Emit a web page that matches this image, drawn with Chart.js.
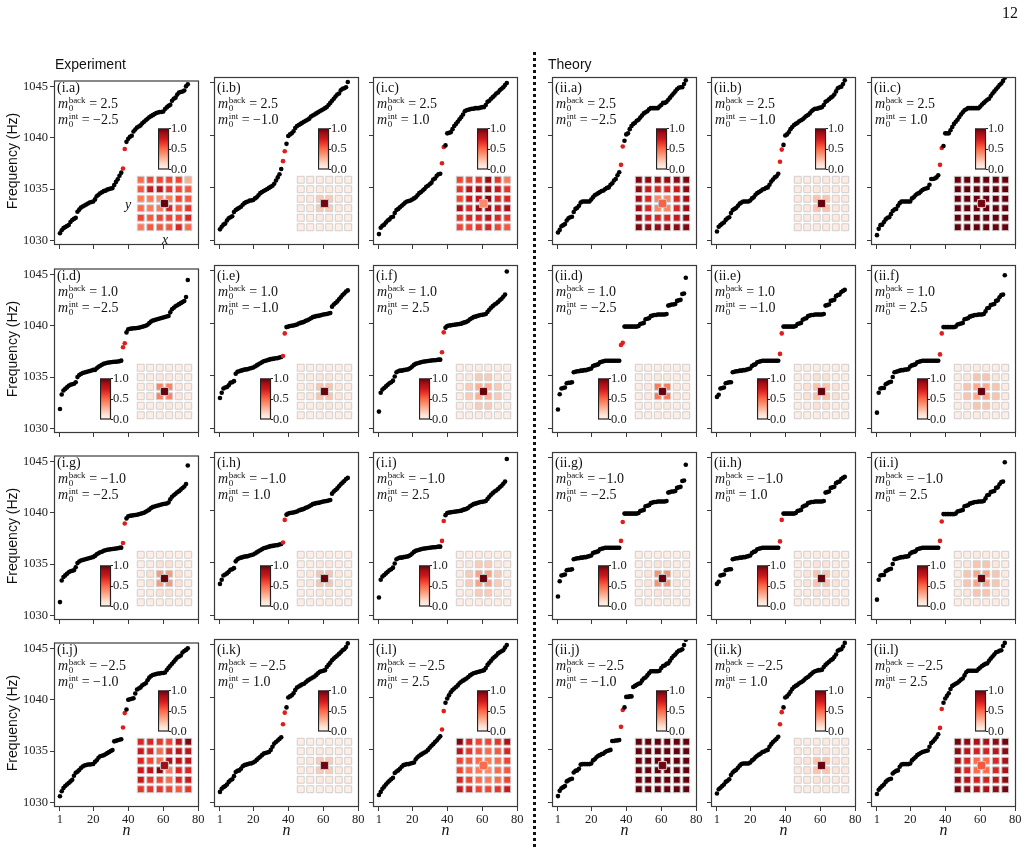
<!DOCTYPE html>
<html lang="en">
<head>
<meta charset="UTF-8">
<title>spectra | experiment vs theory</title>
<script src="https://cdn.jsdelivr.net/npm/chart.js@4.4.1/dist/chart.umd.min.js"></script>
<style>
  body { margin:0; background:#fff; width:1027px; height:848px; position:relative; overflow:hidden; font-family:"Liberation Serif", serif; }
  canvas { position:absolute; }
  .txt { position:absolute; white-space:nowrap; color:#111; z-index:5; }
  .plab { font-size:14px; line-height:16px; }
  .mlab { font-size:14px; line-height:16px; }
  .st { display:inline-flex; flex-direction:column; font-size:9px; line-height:7.5px; vertical-align:5px; margin-left:0.5px; }
  .sans { font-family:"Liberation Sans", Arial, sans-serif; font-size:14px; }
  .ital { font-style:italic; font-size:14px; }
  #sep { position:absolute; left:533px; top:52px; width:2.5px; height:800px;
         background:repeating-linear-gradient(to bottom, #111 0 3px, transparent 3px 6px); }
</style>
</head>
<body>
<div id="sep"></div>
<script>
// ---- data ----
const nTicks = [1, 20, 40, 60, 80];
const fTicks = [1030, 1035, 1040, 1045];
const cbTicks = [0, 0.5, 1];
const edgeN = [37, 38];            // red (in-gap) modes
const nIdx = Array.from({length: 74}, (_, i) => i + 1);

const panelIds = ['i.a','i.b','i.c','ii.a','ii.b','ii.c',
                  'i.d','i.e','i.f','ii.d','ii.e','ii.f',
                  'i.g','i.h','i.i','ii.g','ii.h','ii.i',
                  'i.j','i.k','i.l','ii.j','ii.k','ii.l'];
const mBack = [2.5, 1.0, -1.0, -2.5];
const mInt = [-2.5,-1.0,1.0, -2.5,-1.0,1.0,
              -2.5,-1.0,2.5, -2.5,-1.0,2.5,
              -2.5,1.0,2.5, -2.5,1.0,2.5,
              -1.0,1.0,2.5, -1.0,1.0,2.5];

const freqIa = [1030.7,1031.0,1031.2,1031.3,1031.4,1031.5,1031.8,1032.0,1032.1,1032.2,
  1032.8,1033.0,1033.2,1033.3,1033.4,1033.5,1033.6,1033.7,1033.75,1033.8,
  1034.0,1034.3,1034.45,1034.6,1034.7,1034.8,1034.85,1034.95,1035.0,1035.05,
  1035.1,1035.4,1035.7,1035.95,1036.3,1036.6,1037.0,1038.9,1039.6,1039.9,
  1040.1,1040.2,1040.6,1040.8,1041.0,1041.1,1041.2,1041.4,1041.55,1041.7,
  1041.85,1042.0,1042.1,1042.2,1042.3,1042.4,1042.45,1042.5,1042.5,1042.55,
  1042.8,1042.95,1043.1,1043.2,1043.6,1043.8,1043.9,1044.2,1044.4,1044.45,
  1044.5,1044.6,1045.0,1045.2];
const freqIb = [1031.05,1031.3,1031.5,1031.6,1031.9,1032.1,1032.2,1032.3,1032.7,1032.9,
  1033.0,1033.1,1033.2,1033.4,1033.55,1033.65,1033.7,1033.8,1033.8,1033.85,
  1034.0,1034.1,1034.3,1034.5,1034.6,1034.7,1034.8,1034.9,1035.0,1035.1,
  1035.2,1035.4,1035.7,1036.0,1036.3,1036.8,1037.55,1038.5,1039.2,1039.95,
  1040.1,1040.2,1040.4,1040.7,1040.9,1041.0,1041.1,1041.2,1041.3,1041.4,
  1041.5,1041.6,1041.8,1041.9,1042.0,1042.1,1042.2,1042.3,1042.4,1042.5,
  1042.6,1042.7,1042.9,1043.1,1043.3,1043.5,1043.7,1043.9,1044.0,1044.3,
  1044.45,1044.5,1044.6,1045.1];
const freqIc = [1030.6,1031.2,1031.4,1031.5,1031.7,1031.9,1032.0,1032.2,1032.25,1032.6,
  1032.9,1033.0,1033.15,1033.3,1033.45,1033.6,1033.7,1033.75,1033.8,1033.9,
  1034.0,1034.1,1034.3,1034.5,1034.6,1034.75,1034.9,1035.1,1035.2,1035.35,
  1035.5,1035.8,1035.9,1036.15,1036.3,1036.35,1037.35,1038.9,1039.05,1040.2,
  1040.25,1040.3,1040.6,1040.9,1041.1,1041.3,1041.55,1041.75,1042.0,1042.3,
  1042.4,1042.45,1042.5,1042.55,1042.55,1042.6,1042.6,1042.6,1042.65,1042.7,
  1042.7,1042.9,1043.2,1043.3,1043.5,1043.65,1043.8,1044.0,1044.1,1044.3,
  1044.45,1044.6,1044.8,1045.0];
const freqIIa = [1030.75,1031.0,1031.35,1031.45,1031.55,1031.9,1032.1,1032.2,1032.25,1032.7,
  1033.0,1033.1,1033.3,1033.6,1033.7,1033.7,1033.7,1033.7,1033.7,1033.9,
  1034.1,1034.3,1034.4,1034.5,1034.6,1034.7,1034.75,1034.9,1035.0,1035.05,
  1035.3,1035.45,1035.7,1035.85,1036.2,1036.5,1037.2,1038.95,1039.5,1040.1,
  1040.2,1040.6,1040.9,1041.1,1041.2,1041.4,1041.5,1041.7,1041.9,1042.1,
  1042.2,1042.3,1042.5,1042.6,1042.6,1042.6,1042.6,1042.6,1042.75,1042.9,
  1043.1,1043.1,1043.2,1043.4,1043.6,1043.8,1044.0,1044.2,1044.4,1044.55,
  1044.6,1044.6,1044.9,1045.25];
const freqIIb = [1030.85,1031.3,1031.45,1031.6,1031.7,1031.95,1032.1,1032.2,1032.6,1032.9,
  1033.0,1033.1,1033.3,1033.5,1033.6,1033.7,1033.7,1033.7,1033.7,1033.8,
  1034.0,1034.1,1034.35,1034.5,1034.6,1034.7,1034.85,1034.9,1035.0,1035.05,
  1035.3,1035.6,1035.8,1036.0,1036.1,1036.35,1037.5,1038.65,1039.1,1040.0,
  1040.1,1040.3,1040.6,1040.8,1041.0,1041.1,1041.2,1041.35,1041.45,1041.55,
  1041.7,1041.85,1041.95,1042.1,1042.3,1042.45,1042.55,1042.55,1042.6,1042.65,
  1042.7,1042.9,1043.2,1043.3,1043.45,1043.6,1043.7,1043.9,1044.2,1044.5,
  1044.6,1044.65,1044.9,1045.25];
const freqIIc = [1030.5,1031.1,1031.45,1031.5,1031.75,1032.0,1032.15,1032.2,1032.5,1032.8,
  1032.95,1033.0,1033.3,1033.55,1033.7,1033.7,1033.7,1033.7,1033.7,1033.7,
  1034.0,1034.1,1034.3,1034.45,1034.5,1034.65,1034.8,1034.9,1034.95,1035.0,
  1035.3,1035.85,1035.85,1035.9,1036.0,1036.2,1037.2,1038.8,1039.0,1040.2,
  1040.2,1040.2,1040.5,1040.8,1041.1,1041.3,1041.5,1041.75,1042.0,1042.2,
  1042.4,1042.5,1042.6,1042.6,1042.6,1042.6,1042.6,1042.6,1042.6,1042.75,
  1042.95,1043.1,1043.25,1043.4,1043.5,1043.75,1044.0,1044.2,1044.4,1044.6,
  1044.8,1044.95,1045.2,1045.5];

const freqId = [1031.9,1033.3,1033.7,1033.85,1034.0,1034.15,1034.25,1034.3,1034.35,1034.5,
  1035.0,1035.2,1035.3,1035.4,1035.45,1035.5,1035.55,1035.6,1035.65,1035.7,
  1035.7,1035.85,1036.0,1036.1,1036.2,1036.3,1036.35,1036.4,1036.42,1036.45,
  1036.47,1036.5,1036.5,1036.52,1036.55,1036.6,1037.9,1038.3,1039.35,1039.65,
  1039.7,1039.72,1039.75,1039.75,1039.78,1039.8,1039.85,1039.9,1039.95,1040.0,
  1040.1,1040.25,1040.4,1040.5,1040.55,1040.6,1040.65,1040.7,1040.75,1040.8,
  1040.85,1040.9,1040.95,1041.3,1041.6,1041.75,1041.9,1042.0,1042.1,1042.2,
  1042.3,1042.4,1042.8,1044.45];
const freqIe = [1032.9,1033.4,1033.8,1033.9,1033.95,1034.1,1034.35,1034.4,1034.5,1035.2,
  1035.4,1035.45,1035.5,1035.55,1035.6,1035.62,1035.65,1035.7,1035.75,1035.8,
  1035.9,1036.0,1036.1,1036.2,1036.3,1036.4,1036.45,1036.5,1036.55,1036.6,
  1036.62,1036.65,1036.68,1036.7,1036.75,1036.8,1036.9,1039.05,1039.65,1039.7,
  1039.75,1039.78,1039.8,1039.85,1039.9,1040.0,1040.05,1040.1,1040.15,1040.25,
  1040.3,1040.4,1040.5,1040.6,1040.65,1040.7,1040.72,1040.75,1040.8,1040.85,
  1040.88,1040.9,1040.95,1041.0,1041.6,1041.8,1041.95,1042.1,1042.3,1042.5,
  1042.7,1042.85,1043.05,1043.15];
const freqIf = [1031.6,1033.4,1033.7,1033.85,1034.0,1034.15,1034.3,1034.4,1034.55,1034.95,
  1035.35,1035.45,1035.5,1035.5,1035.55,1035.58,1035.6,1035.65,1035.75,1035.9,
  1036.05,1036.15,1036.2,1036.25,1036.3,1036.35,1036.38,1036.4,1036.42,1036.45,
  1036.47,1036.5,1036.5,1036.52,1036.55,1036.55,1037.25,1039.15,1039.6,1039.75,
  1039.8,1039.82,1039.85,1039.88,1039.9,1039.92,1039.95,1039.98,1040.05,1040.1,
  1040.15,1040.25,1040.4,1040.5,1040.6,1040.65,1040.7,1040.75,1040.8,1040.82,
  1040.85,1040.9,1041.1,1041.3,1041.5,1041.65,1041.8,1041.9,1042.05,1042.2,
  1042.35,1042.55,1042.75,1044.95];
const freqIId = [1031.8,1033.25,1033.8,1033.85,1033.9,1034.3,1034.35,1034.35,1034.4,1035.35,
  1035.4,1035.45,1035.45,1035.5,1035.5,1035.55,1035.55,1035.6,1035.65,1035.7,
  1035.95,1036.0,1036.05,1036.1,1036.3,1036.35,1036.4,1036.45,1036.45,1036.45,
  1036.45,1036.45,1036.45,1036.45,1036.45,1036.45,1037.95,1038.15,1039.7,1039.7,
  1039.7,1039.7,1039.7,1039.7,1039.7,1039.7,1039.75,1039.95,1040.0,1040.05,
  1040.4,1040.45,1040.5,1040.7,1040.75,1040.8,1040.8,1040.85,1040.85,1040.85,
  1040.85,1040.85,1040.9,1041.7,1041.75,1041.8,1041.8,1041.85,1042.15,1042.2,
  1042.25,1042.8,1042.85,1044.35];
const freqIIe = [1033.0,1033.2,1033.8,1033.85,1033.9,1034.3,1034.35,1034.4,1034.4,1035.35,
  1035.4,1035.45,1035.45,1035.5,1035.5,1035.55,1035.55,1035.6,1035.65,1035.7,
  1035.95,1036.05,1036.1,1036.3,1036.35,1036.4,1036.45,1036.45,1036.45,1036.45,
  1036.45,1036.45,1036.45,1036.45,1036.45,1036.45,1037.1,1039.05,1039.7,1039.7,
  1039.7,1039.7,1039.7,1039.7,1039.7,1039.75,1039.95,1040.0,1040.05,1040.35,
  1040.45,1040.5,1040.7,1040.75,1040.8,1040.8,1040.85,1040.85,1040.85,1040.85,
  1040.85,1040.9,1041.7,1041.75,1041.8,1042.15,1042.2,1042.25,1042.6,1042.7,
  1042.75,1043.0,1043.1,1043.2];
const freqIIf = [1031.5,1033.4,1033.8,1033.85,1033.85,1034.2,1034.3,1034.4,1034.45,1034.9,
  1035.35,1035.4,1035.45,1035.5,1035.55,1035.55,1035.6,1035.6,1035.65,1035.9,
  1036.0,1036.05,1036.1,1036.3,1036.35,1036.4,1036.45,1036.45,1036.45,1036.45,
  1036.45,1036.45,1036.45,1036.45,1036.45,1036.45,1037.05,1039.05,1039.65,1039.65,
  1039.65,1039.65,1039.65,1039.65,1039.65,1039.7,1039.9,1039.95,1040.0,1040.05,
  1040.4,1040.45,1040.5,1040.65,1040.7,1040.75,1040.8,1040.8,1040.85,1040.85,
  1040.85,1040.9,1041.15,1041.45,1041.5,1041.75,1041.8,1041.85,1042.15,1042.2,
  1042.5,1042.7,1042.75,1044.6];

const freqIg = [1031.3,1033.4,1033.75,1033.9,1034.05,1034.2,1034.3,1034.35,1034.4,1034.7,
  1035.1,1035.25,1035.35,1035.4,1035.45,1035.5,1035.55,1035.6,1035.65,1035.7,
  1035.8,1035.95,1036.05,1036.15,1036.2,1036.3,1036.35,1036.4,1036.42,1036.45,
  1036.47,1036.5,1036.52,1036.55,1036.58,1036.6,1037.05,1038.95,1039.45,1039.65,
  1039.7,1039.72,1039.75,1039.78,1039.8,1039.85,1039.9,1039.95,1040.0,1040.1,
  1040.2,1040.3,1040.45,1040.55,1040.6,1040.65,1040.7,1040.75,1040.8,1040.85,
  1040.88,1040.9,1041.0,1041.3,1041.55,1041.7,1041.85,1042.0,1042.1,1042.25,
  1042.4,1042.55,1042.8,1044.6];
const freqIh = [1033.0,1033.4,1033.8,1033.9,1034.0,1034.15,1034.35,1034.4,1034.5,1035.15,
  1035.35,1035.45,1035.5,1035.55,1035.6,1035.62,1035.65,1035.7,1035.75,1035.8,
  1035.9,1036.0,1036.1,1036.2,1036.3,1036.4,1036.45,1036.5,1036.55,1036.6,
  1036.62,1036.65,1036.68,1036.7,1036.75,1036.8,1036.95,1039.1,1039.6,1039.7,
  1039.75,1039.78,1039.8,1039.85,1039.9,1040.0,1040.05,1040.1,1040.15,1040.25,
  1040.3,1040.4,1040.5,1040.6,1040.65,1040.7,1040.72,1040.75,1040.8,1040.85,
  1040.88,1040.9,1040.95,1041.0,1041.6,1041.8,1041.95,1042.1,1042.3,1042.5,
  1042.65,1042.8,1043.0,1043.1];
const freqIi = [1031.7,1033.4,1033.7,1033.85,1034.0,1034.15,1034.3,1034.4,1034.55,1034.95,
  1035.35,1035.45,1035.5,1035.5,1035.55,1035.58,1035.6,1035.65,1035.75,1035.9,
  1036.05,1036.15,1036.2,1036.25,1036.3,1036.35,1036.38,1036.4,1036.42,1036.45,
  1036.47,1036.5,1036.5,1036.52,1036.55,1036.55,1037.1,1039.0,1039.55,1039.75,
  1039.8,1039.82,1039.85,1039.88,1039.9,1039.92,1039.95,1039.98,1040.05,1040.1,
  1040.15,1040.25,1040.4,1040.5,1040.6,1040.65,1040.7,1040.75,1040.8,1040.82,
  1040.85,1040.9,1041.1,1041.3,1041.5,1041.65,1041.8,1041.9,1042.05,1042.2,
  1042.35,1042.55,1042.75,1044.9];
const freqIIg = [1031.8,1033.25,1033.8,1033.85,1033.9,1034.3,1034.35,1034.35,1034.4,1035.35,
  1035.4,1035.45,1035.45,1035.5,1035.5,1035.55,1035.55,1035.6,1035.65,1035.7,
  1035.95,1036.0,1036.05,1036.1,1036.3,1036.35,1036.4,1036.45,1036.45,1036.45,
  1036.45,1036.45,1036.45,1036.45,1036.45,1036.45,1037.1,1038.9,1039.7,1039.7,
  1039.7,1039.7,1039.7,1039.7,1039.7,1039.7,1039.75,1039.95,1040.0,1040.05,
  1040.4,1040.45,1040.5,1040.7,1040.75,1040.8,1040.8,1040.85,1040.85,1040.85,
  1040.85,1040.85,1040.9,1041.7,1041.75,1041.8,1041.8,1041.85,1042.15,1042.2,
  1042.25,1042.8,1042.85,1044.35];
const freqIIh = [1033.0,1033.2,1033.8,1033.85,1033.9,1034.3,1034.35,1034.4,1034.4,1035.35,
  1035.4,1035.45,1035.45,1035.5,1035.5,1035.55,1035.55,1035.6,1035.65,1035.7,
  1035.95,1036.05,1036.1,1036.3,1036.35,1036.4,1036.45,1036.45,1036.45,1036.45,
  1036.45,1036.45,1036.45,1036.45,1036.45,1036.45,1037.05,1039.1,1039.7,1039.7,
  1039.7,1039.7,1039.7,1039.7,1039.7,1039.75,1039.95,1040.0,1040.05,1040.35,
  1040.45,1040.5,1040.7,1040.75,1040.8,1040.8,1040.85,1040.85,1040.85,1040.85,
  1040.85,1040.9,1041.7,1041.75,1041.8,1042.15,1042.2,1042.25,1042.6,1042.7,
  1042.75,1043.0,1043.1,1043.2];
const freqIIi = [1031.5,1033.4,1033.8,1033.85,1033.85,1034.2,1034.3,1034.4,1034.45,1034.9,
  1035.35,1035.4,1035.45,1035.5,1035.55,1035.55,1035.6,1035.6,1035.65,1035.9,
  1036.0,1036.05,1036.1,1036.3,1036.35,1036.4,1036.45,1036.45,1036.45,1036.45,
  1036.45,1036.45,1036.45,1036.45,1036.45,1036.45,1037.1,1038.95,1039.65,1039.65,
  1039.65,1039.65,1039.65,1039.65,1039.65,1039.7,1039.9,1039.95,1040.0,1040.05,
  1040.4,1040.45,1040.5,1040.65,1040.7,1040.75,1040.8,1040.8,1040.85,1040.85,
  1040.85,1040.9,1041.15,1041.45,1041.5,1041.75,1041.8,1041.85,1042.15,1042.2,
  1042.5,1042.7,1042.75,1044.6];

const freqIj = [1030.6,1031.1,1031.4,1031.6,1031.75,1031.9,1032.05,1032.2,1032.6,1032.9,
  1033.0,1033.15,1033.35,1033.5,1033.6,1033.65,1033.7,1033.7,1033.72,1033.75,
  1033.95,1034.1,1034.35,1034.5,1034.55,1034.6,1034.7,1034.8,1034.9,1035.0,
  1035.1,1035.95,1036.0,1036.05,1036.1,1036.15,1037.3,1038.7,1039.05,1040.0,
  1040.05,1040.1,1040.15,1040.6,1041.0,1041.1,1041.2,1041.4,1041.5,1041.6,
  1041.9,1042.15,1042.3,1042.4,1042.45,1042.5,1042.55,1042.55,1042.6,1042.6,
  1042.65,1042.9,1043.1,1043.3,1043.5,1043.7,1043.9,1044.1,1044.2,1044.3,
  1044.6,1044.75,1044.85,1045.0];
const freqIk = [1031.0,1031.3,1031.45,1031.55,1031.7,1031.95,1032.1,1032.2,1032.5,1032.9,
  1033.0,1033.05,1033.2,1033.45,1033.55,1033.6,1033.65,1033.7,1033.72,1033.8,
  1033.9,1034.05,1034.2,1034.35,1034.5,1034.65,1034.7,1034.75,1034.8,1035.0,
  1035.3,1035.6,1035.75,1035.9,1036.05,1036.2,1037.45,1038.55,1039.05,1040.0,
  1040.1,1040.2,1040.4,1040.7,1040.95,1041.05,1041.15,1041.25,1041.3,1041.45,
  1041.6,1041.7,1041.8,1041.9,1042.0,1042.15,1042.3,1042.45,1042.5,1042.55,
  1042.6,1042.9,1043.1,1043.3,1043.55,1043.7,1043.85,1044.0,1044.15,1044.3,
  1044.5,1044.6,1044.8,1045.15];
const freqIl = [1030.7,1031.0,1031.3,1031.5,1031.7,1031.9,1032.05,1032.2,1032.35,1032.8,
  1032.95,1033.05,1033.2,1033.4,1033.55,1033.6,1033.65,1033.65,1033.7,1033.75,
  1033.8,1034.1,1034.3,1034.45,1034.55,1034.65,1034.75,1034.85,1035.0,1035.2,
  1035.4,1035.55,1035.75,1035.9,1036.1,1036.3,1036.95,1038.7,1039.5,1039.9,
  1040.2,1040.5,1040.7,1040.85,1041.0,1041.15,1041.35,1041.5,1041.6,1041.7,
  1041.8,1041.95,1042.1,1042.2,1042.3,1042.35,1042.4,1042.45,1042.5,1042.55,
  1042.6,1042.8,1043.1,1043.3,1043.5,1043.7,1043.85,1044.0,1044.2,1044.3,
  1044.4,1044.5,1044.75,1045.0];
const freqIIj = [1030.6,1031.1,1031.35,1031.45,1031.55,1032.0,1032.1,1032.2,1032.25,1032.85,
  1033.0,1033.05,1033.2,1033.6,1033.65,1033.65,1033.65,1033.65,1033.65,1033.7,
  1034.0,1034.1,1034.3,1034.45,1034.5,1034.6,1034.65,1034.8,1034.9,1034.95,
  1035.0,1035.85,1035.85,1035.9,1035.9,1035.95,1037.2,1038.8,1039.05,1040.05,
  1040.05,1040.1,1040.1,1041.0,1041.1,1041.2,1041.3,1041.35,1041.6,1041.8,
  1041.9,1042.1,1042.3,1042.5,1042.5,1042.5,1042.5,1042.5,1042.55,1042.8,
  1043.0,1043.05,1043.2,1043.25,1043.5,1043.75,1043.95,1044.1,1044.3,1044.45,
  1044.5,1044.6,1045.0,1045.5];
const freqIIk = [1030.85,1031.25,1031.4,1031.55,1031.7,1031.95,1032.05,1032.2,1032.6,1032.85,
  1033.0,1033.1,1033.3,1033.5,1033.65,1033.7,1033.7,1033.7,1033.7,1033.8,
  1034.0,1034.1,1034.3,1034.45,1034.55,1034.65,1034.8,1034.85,1034.95,1035.0,
  1035.3,1035.55,1035.75,1035.9,1036.05,1036.25,1037.45,1038.6,1039.05,1040.0,
  1040.1,1040.3,1040.55,1040.8,1041.0,1041.1,1041.2,1041.35,1041.45,1041.55,
  1041.7,1041.85,1041.95,1042.1,1042.25,1042.4,1042.5,1042.55,1042.6,1042.6,
  1042.65,1042.9,1043.1,1043.25,1043.4,1043.55,1043.65,1043.85,1044.1,1044.45,
  1044.55,1044.6,1044.85,1045.2];
const freqIIl = [1030.8,1031.2,1031.4,1031.55,1031.7,1031.95,1032.1,1032.2,1032.25,1032.75,
  1032.9,1033.0,1033.05,1033.4,1033.6,1033.65,1033.65,1033.65,1033.65,1033.7,
  1034.0,1034.15,1034.3,1034.5,1034.6,1034.7,1034.8,1034.85,1034.9,1034.95,
  1035.3,1035.65,1035.8,1036.0,1036.2,1036.5,1037.1,1038.9,1039.5,1039.9,
  1040.15,1040.4,1040.8,1041.1,1041.2,1041.3,1041.4,1041.55,1041.7,1041.8,
  1042.1,1042.4,1042.55,1042.55,1042.55,1042.55,1042.55,1042.55,1042.7,1042.85,
  1043.0,1043.1,1043.2,1043.25,1043.5,1043.7,1043.9,1044.1,1044.3,1044.35,
  1044.45,1044.5,1044.9,1045.2];

// 6x6 mode-intensity maps (top row first) and the value of the central site
const heatIa = [[0.5,0.6,0.6,0.6,0.6,0.3],[0.55,0.75,0.8,0.65,0.6,0.55],[0.45,0.45,0.4,0.45,0.6,0.55],
  [0.5,0.45,0.45,0.7,0.55,0.65],[0.6,0.55,0.6,0.6,0.6,0.7],[0.45,0.55,0.55,0.55,0.7,0.5]];
const heatIb = [[0.04,0.04,0.05,0.05,0.04,0.04],[0.04,0.05,0.07,0.07,0.05,0.04],[0.05,0.07,0.2,0.2,0.07,0.05],
  [0.05,0.07,0.2,0.2,0.07,0.05],[0.04,0.05,0.07,0.07,0.05,0.04],[0.04,0.04,0.05,0.05,0.04,0.04]];
const heatIc = [[0.6,0.6,0.65,0.9,0.65,0.45],[0.65,0.8,0.85,0.9,0.75,0.65],[0.6,0.75,0.8,0.95,0.7,0.7],
  [0.85,0.7,0.9,0.9,0.75,0.85],[0.65,0.7,0.7,0.8,0.7,0.65],[0.6,0.6,0.65,0.7,0.6,0.55]];
const heatIIa = [[0.95,0.92,0.9,0.9,0.92,0.95],[0.92,0.75,0.7,0.7,0.75,0.92],[0.88,0.7,0.42,0.42,0.7,0.88],
  [0.88,0.7,0.42,0.42,0.7,0.88],[0.92,0.75,0.7,0.7,0.75,0.92],[0.95,0.92,0.9,0.9,0.92,0.95]];
const heatIIb = [[0.06,0.06,0.07,0.07,0.06,0.06],[0.06,0.07,0.09,0.09,0.07,0.06],[0.07,0.09,0.22,0.22,0.09,0.07],
  [0.07,0.09,0.22,0.22,0.09,0.07],[0.06,0.07,0.09,0.09,0.07,0.06],[0.06,0.06,0.07,0.07,0.06,0.06]];
const heatIIc = [[1,1,1,1,1,1],[1,1,1,1,1,1],[1,1,1,1,1,1],[1,1,1,1,1,1],[1,1,1,1,1,1],[1,1,1,1,1,1]];
const heatId = [[0.04,0.04,0.05,0.05,0.04,0.04],[0.04,0.05,0.08,0.08,0.05,0.04],[0.05,0.08,0.42,0.42,0.08,0.05],
  [0.05,0.08,0.42,0.42,0.08,0.05],[0.04,0.05,0.08,0.08,0.05,0.04],[0.04,0.04,0.05,0.05,0.04,0.04]];
const heatIe = [[0.04,0.04,0.05,0.05,0.04,0.04],[0.04,0.05,0.09,0.09,0.05,0.04],[0.05,0.09,0.22,0.22,0.09,0.05],
  [0.05,0.09,0.22,0.22,0.09,0.05],[0.04,0.05,0.09,0.09,0.05,0.04],[0.04,0.04,0.05,0.05,0.04,0.04]];
const heatIf = [[0.04,0.05,0.06,0.06,0.05,0.04],[0.05,0.08,0.2,0.2,0.08,0.05],[0.06,0.2,0.28,0.28,0.2,0.06],
  [0.06,0.2,0.28,0.28,0.2,0.06],[0.05,0.08,0.2,0.2,0.08,0.05],[0.04,0.05,0.06,0.06,0.05,0.04]];
const heatIId = [[0.04,0.04,0.05,0.05,0.04,0.04],[0.04,0.05,0.08,0.08,0.05,0.04],[0.05,0.08,0.45,0.45,0.08,0.05],
  [0.05,0.08,0.45,0.45,0.08,0.05],[0.04,0.05,0.08,0.08,0.05,0.04],[0.04,0.04,0.05,0.05,0.04,0.04]];
const heatIIe = [[0.04,0.05,0.05,0.05,0.05,0.04],[0.05,0.06,0.12,0.12,0.06,0.05],[0.05,0.12,0.22,0.22,0.12,0.05],
  [0.05,0.12,0.22,0.22,0.12,0.05],[0.05,0.06,0.12,0.12,0.06,0.05],[0.04,0.05,0.05,0.05,0.05,0.04]];
const heatIIf = [[0.04,0.05,0.06,0.06,0.05,0.04],[0.05,0.09,0.22,0.22,0.09,0.05],[0.06,0.22,0.3,0.3,0.22,0.06],
  [0.06,0.22,0.3,0.3,0.22,0.06],[0.05,0.09,0.22,0.22,0.09,0.05],[0.04,0.05,0.06,0.06,0.05,0.04]];
const heatIg = [[0.04,0.04,0.05,0.05,0.04,0.04],[0.04,0.06,0.12,0.12,0.06,0.04],[0.05,0.12,0.35,0.35,0.12,0.05],
  [0.05,0.12,0.35,0.35,0.12,0.05],[0.04,0.06,0.12,0.12,0.06,0.04],[0.04,0.04,0.05,0.05,0.04,0.04]];
const heatIh = [[0.04,0.04,0.05,0.05,0.04,0.04],[0.04,0.05,0.08,0.08,0.05,0.04],[0.05,0.08,0.22,0.22,0.08,0.05],
  [0.05,0.08,0.22,0.22,0.08,0.05],[0.04,0.05,0.08,0.08,0.05,0.04],[0.04,0.04,0.05,0.05,0.04,0.04]];
const heatIi = [[0.04,0.05,0.06,0.06,0.05,0.04],[0.05,0.08,0.2,0.2,0.08,0.05],[0.06,0.2,0.33,0.33,0.2,0.06],
  [0.06,0.2,0.33,0.33,0.2,0.06],[0.05,0.08,0.2,0.2,0.08,0.05],[0.04,0.05,0.06,0.06,0.05,0.04]];
const heatIIg = [[0.04,0.04,0.05,0.05,0.04,0.04],[0.04,0.06,0.1,0.1,0.06,0.04],[0.05,0.1,0.38,0.38,0.1,0.05],
  [0.05,0.1,0.38,0.38,0.1,0.05],[0.04,0.06,0.1,0.1,0.06,0.04],[0.04,0.04,0.05,0.05,0.04,0.04]];
const heatIIh = [[0.04,0.05,0.05,0.05,0.05,0.04],[0.05,0.06,0.1,0.1,0.06,0.05],[0.05,0.1,0.22,0.22,0.1,0.05],
  [0.05,0.1,0.22,0.22,0.1,0.05],[0.05,0.06,0.1,0.1,0.06,0.05],[0.04,0.05,0.05,0.05,0.05,0.04]];
const heatIIi = [[0.04,0.05,0.06,0.06,0.05,0.04],[0.05,0.09,0.22,0.22,0.09,0.05],[0.06,0.22,0.32,0.32,0.22,0.06],
  [0.06,0.22,0.32,0.32,0.22,0.06],[0.05,0.09,0.22,0.22,0.09,0.05],[0.04,0.05,0.06,0.06,0.05,0.04]];
const heatIj = [[0.7,0.7,0.65,0.6,0.8,0.95],[0.75,0.7,0.5,0.7,0.8,0.8],[0.7,0.6,0.5,0.85,0.8,0.8],
  [0.75,0.8,0.95,0.45,0.7,0.7],[0.75,0.65,0.6,0.5,0.7,0.75],[0.65,0.65,0.65,0.6,0.55,0.65]];
const heatIk = [[0.04,0.04,0.05,0.05,0.04,0.04],[0.04,0.05,0.07,0.07,0.05,0.04],[0.05,0.07,0.2,0.2,0.07,0.05],
  [0.05,0.07,0.2,0.2,0.07,0.05],[0.04,0.05,0.07,0.07,0.05,0.04],[0.04,0.04,0.05,0.05,0.04,0.04]];
const heatIl = [[0.95,0.7,0.6,0.6,0.65,0.85],[0.8,0.65,0.55,0.5,0.55,0.7],[0.6,0.55,0.5,0.45,0.5,0.6],
  [0.6,0.5,0.45,0.4,0.5,0.55],[0.7,0.6,0.5,0.45,0.5,0.6],[0.75,0.7,0.6,0.6,0.65,0.75]];
const heatIIj = [[1,1,1,1,1,1],[1,1,1,1,1,1],[1,1,1,1,1,1],[1,1,1,1,1,1],[1,1,1,1,1,1],[1,1,1,1,1,1]];
const heatIIk = [[0.06,0.06,0.07,0.07,0.06,0.06],[0.06,0.07,0.1,0.1,0.07,0.06],[0.07,0.1,0.22,0.22,0.1,0.07],
  [0.07,0.1,0.22,0.22,0.1,0.07],[0.06,0.07,0.1,0.1,0.07,0.06],[0.06,0.06,0.07,0.07,0.06,0.06]];
const heatIIl = [[0.97,0.92,0.85,0.85,0.92,0.97],[0.92,0.8,0.72,0.72,0.8,0.92],[0.85,0.7,0.5,0.5,0.7,0.85],
  [0.85,0.7,0.5,0.5,0.7,0.85],[0.92,0.8,0.72,0.72,0.8,0.92],[0.97,0.92,0.85,0.85,0.92,0.97]];
const coreVal = [1.0,0.97,0.4, 0.52,1.0,0.97,
                 1.0,1.0,1.0, 1.0,1.0,1.0,
                 1.0,1.0,1.0, 1.0,1.0,1.0,
                 0.88,0.97,0.5, 0.97,1.0,0.55];

const freqs = [freqIa,freqIb,freqIc,freqIIa,freqIIb,freqIIc,
               freqId,freqIe,freqIf,freqIId,freqIIe,freqIIf,
               freqIg,freqIh,freqIi,freqIIg,freqIIh,freqIIi,
               freqIj,freqIk,freqIl,freqIIj,freqIIk,freqIIl];
const heats = [heatIa,heatIb,heatIc,heatIIa,heatIIb,heatIIc,
               heatId,heatIe,heatIf,heatIId,heatIIe,heatIIf,
               heatIg,heatIh,heatIi,heatIIg,heatIIh,heatIIi,
               heatIj,heatIk,heatIl,heatIIj,heatIIk,heatIIl];

// ---- drawing ----
const REDS = [[255,245,240],[254,224,210],[252,187,161],[252,146,114],[251,106,74],
              [239,59,44],[203,24,29],[165,15,21],[103,0,13]];
function reds(v) {
  v = Math.max(0, Math.min(1, v));
  const p = v * 8, i = Math.min(7, Math.floor(p)), t = p - i;
  const a = REDS[i], b = REDS[i + 1];
  return 'rgb(' + [0,1,2].map(k => Math.round(a[k] + (b[k] - a[k]) * t)).join(',') + ')';
}

Chart.defaults.font.family = "'Liberation Serif', serif";
Chart.defaults.animation = false;
Chart.defaults.responsive = false;
Chart.defaults.events = [];
Chart.defaults.plugins.legend.display = false;
Chart.defaults.plugins.tooltip.enabled = false;

const boxPlugin = {
  id: 'box',
  afterDraw(c, args, opts) {
    const a = c.chartArea, x = c.ctx;
    x.save();
    x.strokeStyle = opts.color || '#444';
    x.lineWidth = opts.width || 1.2;
    x.strokeRect(a.left + 0.5, a.top + 0.5, a.right - a.left - 1, a.bottom - a.top - 1);
    x.restore();
  }
};

const colX = [54, 214, 373, 552, 711, 871];
const rowY = [77, 265, 452, 639];
const BW = 145, BH = 168, ML = 54, MT = 6, MR = 8, MB = 46;
const RED = 'rgb(224,28,28)';
const AX = '#3a3a3a';

function makeCanvas(x, y, w, h) {
  const c = document.createElement('canvas');
  c.width = w; c.height = h;
  c.style.left = x + 'px'; c.style.top = y + 'px';
  document.body.appendChild(c);
  return c;
}
function addText(html, x, y, cls, extra) {
  const d = document.createElement('div');
  d.className = 'txt ' + cls;
  d.style.left = x + 'px'; d.style.top = y + 'px';
  if (extra) Object.assign(d.style, extra);
  d.innerHTML = html;
  document.body.appendChild(d);
}
const fmt = v => (v < 0 ? '\u2212' : '') + Math.abs(v).toFixed(1);

panelIds.forEach((id, k) => {
  const r = Math.floor(k / 6), c = k % 6;
  const bx = colX[c], by = rowY[r];
  const f = freqs[k];

  // main spectrum
  const cv = makeCanvas(bx - ML, by - MT, ML + BW + MR, MT + BH + MB);
  new Chart(cv, {
    type: 'scatter',
    data: { datasets: [{
      data: f.map((v, i) => ({ x: nIdx[i], y: v })),
      pointRadius: 2.3,
      pointBorderWidth: 0,
      pointBackgroundColor: nIdx.map(n => edgeN.includes(n) ? RED : '#000')
    }] },
    options: {
      layout: { padding: { top: MT, right: MR, left: 0, bottom: 0 } },
      scales: {
        x: {
          type: 'linear', min: -2.4, max: 80.4,
          afterBuildTicks: s => { s.ticks = nTicks.map(v => ({ value: v })); },
          afterFit: s => { s.height = MB; },
          ticks: { display: r === 3, color: '#222', padding: 1, maxRotation: 0, autoSkip: false,
                   font: { size: 12.5 }, callback: v => String(v) },
          grid: { drawOnChartArea: false, tickLength: 4, color: AX },
          border: { display: false }
        },
        y: {
          min: 1029.56, max: 1045.57,
          afterBuildTicks: s => { s.ticks = fTicks.map(v => ({ value: v })); },
          afterFit: s => { s.width = ML; },
          ticks: { display: c === 0, color: '#222', padding: 2, font: { size: 12.5 }, callback: v => String(v) },
          grid: { drawOnChartArea: false, tickLength: 4, color: AX },
          border: { display: false }
        }
      },
      plugins: { box: { color: AX, width: 1.2 } }
    },
    plugins: [boxPlugin]
  });

  // mode map inset
  const hm = heats[k];
  const cells = [], cols = [];
  hm.forEach((row, ri) => row.forEach((v, ci) => { cells.push({ x: ci, y: 5 - ri }); cols.push(reds(v)); }));
  const hv = makeCanvas(bx + 82, by + 98, 57, 57);
  new Chart(hv, {
    type: 'scatter',
    data: { datasets: [
      { data: [{ x: 2.5, y: 2.5 }], pointStyle: 'rect', pointRadius: 5.6, clip: false,
        pointBackgroundColor: reds(coreVal[k]), pointBorderColor: '#c4c4c4', pointBorderWidth: 1 },
      { data: cells, pointStyle: 'rect', pointRadius: 4.9, clip: false,
        pointBackgroundColor: cols, pointBorderColor: '#cfcfcf', pointBorderWidth: 1 }
    ] },
    options: {
      layout: { padding: 0, autoPadding: false },
      scales: { x: { display: false, min: -0.5, max: 5.5 }, y: { display: false, min: -0.5, max: 5.5 } }
    }
  });

  // colorbar
  const cbx = (r === 1 || r === 2) ? bx + 46 : bx + 104;
  const cby = (r === 1 || r === 2) ? by + 113 : by + 51;
  const cb = makeCanvas(cbx, cby - 7, 11 + 28, 42 + 14);
  new Chart(cb, {
    type: 'bar',
    data: { labels: [''], datasets: [{
      data: [1], barPercentage: 1, categoryPercentage: 1, borderWidth: 0,
      backgroundColor: (ctx) => {
        const a = ctx.chart.chartArea;
        if (!a) return '#fff';
        const g = ctx.chart.ctx.createLinearGradient(0, a.bottom, 0, a.top);
        REDS.forEach((_, i) => g.addColorStop(i / 8, reds(i / 8)));
        return g;
      }
    }] },
    options: {
      layout: { padding: { top: 7, bottom: 7, left: 0, right: 0 }, autoPadding: false },
      scales: {
        x: { display: false },
        y: {
          position: 'right', min: 0, max: 1,
          afterBuildTicks: s => { s.ticks = cbTicks.map(v => ({ value: v })); },
          afterFit: s => { s.width = 28; },
          ticks: { color: '#222', padding: 0, font: { size: 12.5 }, callback: v => Number(v).toFixed(1) },
          grid: { drawOnChartArea: false, tickLength: 2, color: '#222' },
          border: { display: false }
        }
      },
      plugins: { box: { color: '#222', width: 1.2 } }
    },
    plugins: [boxPlugin]
  });

  // labels
  addText('(' + id + ')', bx + 3, by + 3, 'plab');
  addText('<i>m</i><span class="st"><span>back</span><span>0</span></span> = ' + fmt(mBack[r]), bx + 4, by + 19, 'mlab');
  addText('<i>m</i><span class="st"><span>int</span><span>0</span></span> = ' + fmt(mInt[k]), bx + 4, by + 35, 'mlab');

  if (c === 0) {
    addText('Frequency (Hz)', 12, by + BH / 2, 'sans',
            { transform: 'translate(-50%,-50%) rotate(-90deg)' });
  }
  if (r === 3) {
    addText('n', bx + BW / 2, 830, 'ital', { transform: 'translate(-50%,-50%)', fontSize: '16px' });
  }
  if (k === 0) {
    addText('y', bx + 74, by + 128, 'ital', { transform: 'translate(-50%,-50%)' });
    addText('x', bx + 111, by + 163, 'ital', { transform: 'translate(-50%,-50%)' });
  }
});

addText('Experiment', 55, 56, 'sans');
addText('Theory', 548, 56, 'sans');
addText('12', 1002, 4, '', { fontSize: '16px' });
</script>
</body>
</html>
